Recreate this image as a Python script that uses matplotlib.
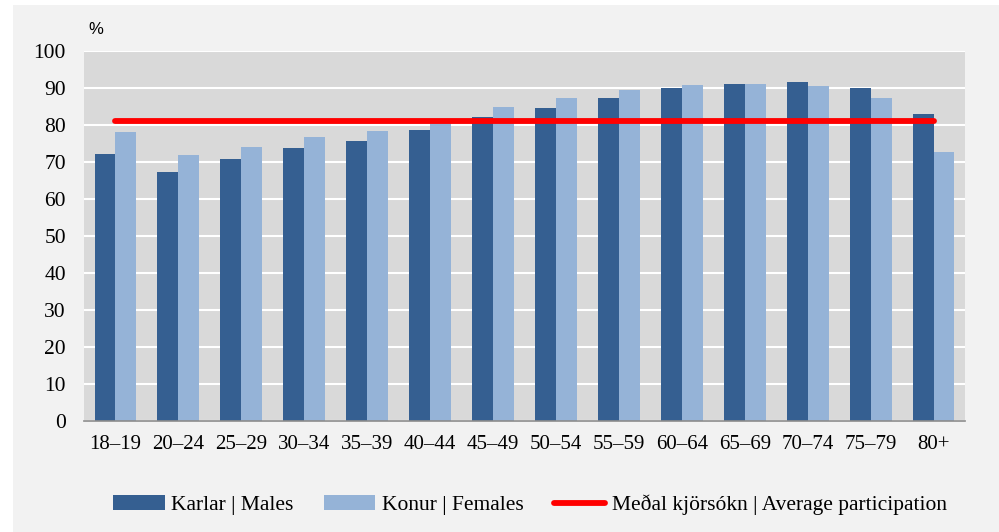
import numpy as np
import matplotlib.pyplot as plt
from matplotlib.patches import Rectangle

# Aldurshópar og kjörsókn (%)
aldur = ['18–19', '20–24', '25–29', '30–34', '35–39', '40–44', '45–49',
         '50–54', '55–59', '60–64', '65–69', '70–74', '75–79', '80+']
karlar = [72.2, 67.3, 70.7, 73.7, 75.7, 78.6, 82.1, 84.7, 87.3, 90.0, 91.1, 91.6, 90.1, 82.9]
konur = [78.1, 71.9, 74.1, 76.8, 78.3, 80.6, 85.0, 87.4, 89.5, 90.8, 91.1, 90.5, 87.2, 72.7]
medal = 81.2

W, H = 999, 532
fig = plt.figure(figsize=(W / 100, H / 100), dpi=100, facecolor='white')
fig.patches.append(Rectangle((13 / W, 0), 1 - 13 / W, 1 - 5 / H,
                             transform=fig.transFigure, facecolor='#f2f2f2',
                             edgecolor='none', zorder=-10))

ax = fig.add_axes([84 / W, (H - 421) / H, (965 - 84) / W, (421 - 51) / H])
ax.set_facecolor('#d9d9d9')

x = np.arange(len(aldur))
bw = 0.333
b1 = ax.bar(x - bw / 2, karlar, bw, color='#355f91', label='Karlar | Males', zorder=2)
b2 = ax.bar(x + bw / 2, konur, bw, color='#95b3d7', label='Konur | Females', zorder=2)
l1, = ax.plot(x, [medal] * len(x), color='#ff0000', lw=4.2, solid_capstyle='round',
              label='Meðal kjörsókn | Average participation', zorder=3)

ax.set_xlim(-0.5, len(aldur) - 0.5)
ax.set_ylim(0, 100)
ax.set_yticks(range(0, 101, 10))
ax.set_xticks(x)
ax.set_xticklabels(aldur)
ax.grid(axis='y', color='white', lw=1.5, zorder=1)
ax.set_axisbelow(True)
for s in ['top', 'right', 'left']:
    ax.spines[s].set_visible(False)
ax.spines['bottom'].set_color('#8c8c8c')
ax.spines['bottom'].set_linewidth(1.2)
ax.spines['bottom'].set_zorder(4)
ax.tick_params(length=0, labelsize=15)
ax.tick_params(axis='y', labelsize=15.5, pad=13)
ax.tick_params(axis='x', pad=10)
for lab in ax.get_xticklabels() + ax.get_yticklabels():
    lab.set_fontfamily('Liberation Serif')

fig.text(88 / W, 1 - 30 / H, '%', fontsize=12, family='Liberation Sans', va='center')

leg = fig.legend(handles=[b1, b2, l1], loc='center', bbox_to_anchor=(530 / W, 1 - 505 / H),
                 ncol=3, frameon=False, prop={'family': 'Liberation Serif', 'size': 15.5},
                 handlelength=2.4, handletextpad=0.3, columnspacing=1.4)

fig.savefig('out.png', dpi=100, facecolor=fig.get_facecolor())
